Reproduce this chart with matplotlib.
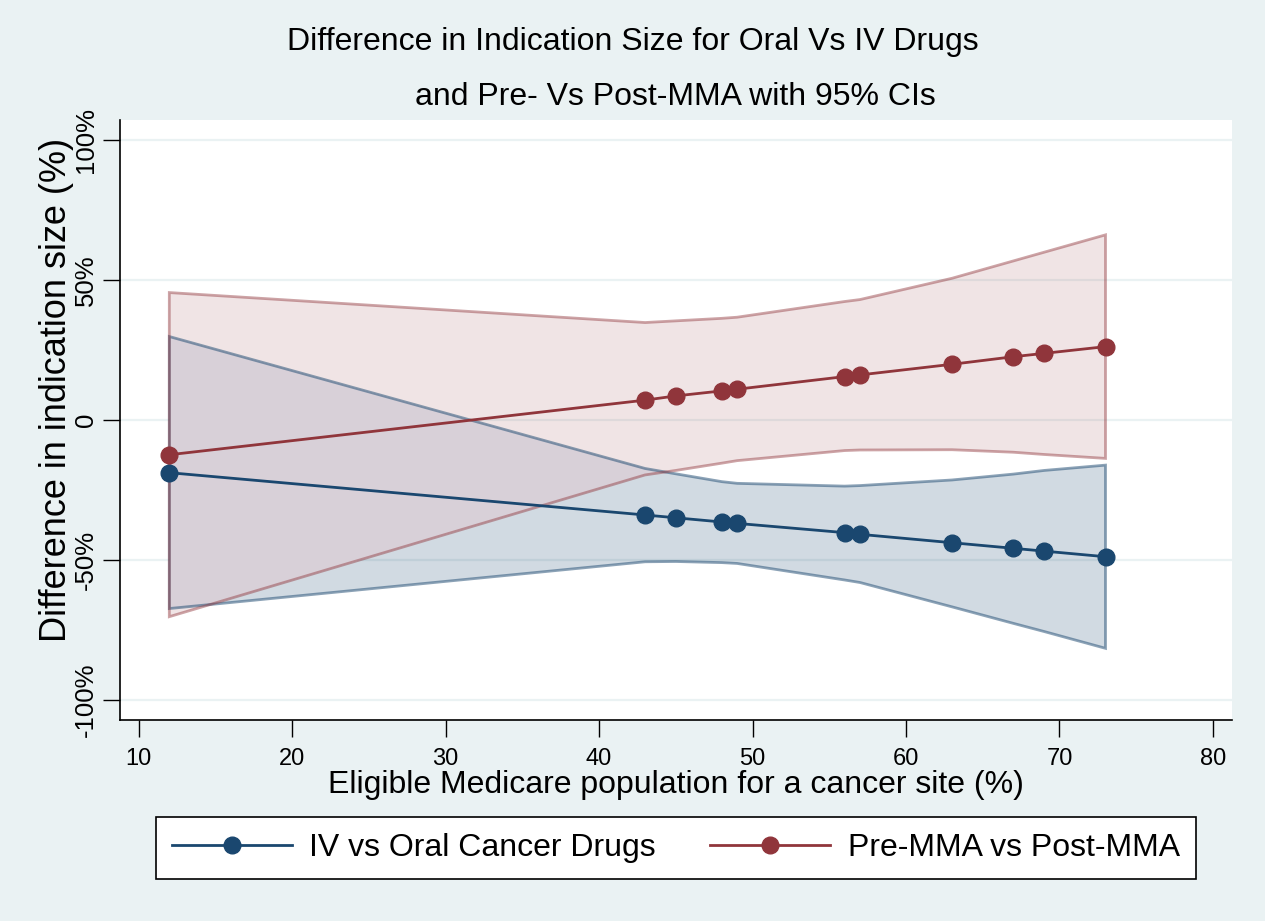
import matplotlib
matplotlib.use("Agg")
import matplotlib.pyplot as plt
from matplotlib.patches import Polygon
from matplotlib.colors import to_rgba

# eligible Medicare population (%) for each cancer site
x = [12, 43, 45, 48, 49, 56, 57, 63, 67, 69, 73]

# IV vs oral: point estimate and 95% CI
iv = [-18.8, -33.9, -34.9, -36.4, -36.9, -40.2, -40.8, -43.8, -45.8, -46.8, -48.8]
iv_hi = [29.8, -17.3, -19.2, -22.0, -22.6, -23.6, -23.4, -21.4, -19.3, -18.0, -16.1]
iv_lo = [-67.3, -50.6, -50.5, -50.9, -51.2, -57.1, -58.0, -66.7, -72.6, -75.5, -81.5]

# pre- vs post-MMA: point estimate and 95% CI
mma = [-12.4, 7.1, 8.6, 10.4, 11.0, 15.5, 16.1, 19.9, 22.6, 23.8, 26.2]
mma_hi = [45.5, 34.8, 35.4, 36.3, 36.7, 42.3, 43.0, 50.6, 56.8, 59.9, 66.1]
mma_lo = [-70.2, -19.6, -18.0, -15.4, -14.5, -10.9, -10.7, -10.6, -11.5, -12.3, -13.7]

xticks = [10, 20, 30, 40, 50, 60, 70, 80]
yticks = [-100, -50, 0, 50, 100]
ylabels = ["-100%", "-50%", "0", "50%", "100%"]

navy = "#1a476f"
maroon = "#90353b"
bg = "#eaf2f3"
overlap = "#d8d0d8"

plt.rcParams["font.family"] = ["Liberation Sans", "DejaVu Sans"]

fig = plt.figure(figsize=(12.65, 9.21), dpi=100, facecolor=bg)
ax = fig.add_axes([0.0949, 0.2182, 0.8790, 0.6515])
ax.set_facecolor("white")

# light horizontal grid
for yt in yticks:
    ax.axhline(yt, color=bg, lw=1.6, zorder=0)


def band_xy(lo, hi):
    return list(zip(list(x) + list(x[::-1]), list(hi) + list(lo[::-1])))


iv_xy = band_xy(iv_lo, iv_hi)
mma_xy = band_xy(mma_lo, mma_hi)

iv_patch = Polygon(iv_xy, closed=True, facecolor=to_rgba(navy, 0.2), edgecolor="none", zorder=1)
mma_patch = Polygon(mma_xy, closed=True, facecolor=to_rgba(maroon, 0.13), edgecolor="none", zorder=1)
ax.add_patch(iv_patch)
ax.add_patch(mma_patch)

# where the two CIs overlap
ov = Polygon(mma_xy, closed=True, facecolor=overlap, edgecolor="none", zorder=1.5)
ax.add_patch(ov)
ov.set_clip_path(iv_patch)

# CI outlines
ax.add_patch(Polygon(iv_xy, closed=True, fill=False, edgecolor=to_rgba(navy, 0.5), lw=2, zorder=2))
ax.add_patch(Polygon(mma_xy, closed=True, fill=False, edgecolor=to_rgba(maroon, 0.45), lw=2, zorder=2))

ax.plot(x, iv, color=navy, lw=2, marker="o", ms=12, zorder=3, label="IV vs Oral Cancer Drugs")
ax.plot(x, mma, color=maroon, lw=2, marker="o", ms=12, zorder=3, label="Pre-MMA vs Post-MMA")

ax.set_xlim(8.79, 81.24)
ax.set_ylim(-107.1, 107.1)
ax.set_xticks(xticks)
ax.set_xticklabels([str(t) for t in xticks], fontsize=17)
ax.set_yticks(yticks)
ax.set_yticklabels(ylabels, rotation=90, va="center", fontsize=18.5)
ax.tick_params(axis="both", length=12, width=1, direction="out", pad=4)
ax.tick_params(axis="x", pad=8)

for s in ["top", "right"]:
    ax.spines[s].set_visible(False)
for s in ["left", "bottom"]:
    ax.spines[s].set_linewidth(1.2)

ax.set_xlabel("Eligible Medicare population for a cancer site (%)", fontsize=23, labelpad=0)
ax.set_ylabel("Difference in indication size (%)", fontsize=26)
ax.yaxis.set_label_coords(-0.041, 0.55)

fig.text(0.5, 0.954, "Difference in Indication Size for Oral Vs IV Drugs", ha="center", va="center", fontsize=23)
fig.text(0.5336, 0.895, "and Pre- Vs Post-MMA with 95% CIs", ha="center", va="center", fontsize=23)

leg = fig.legend(loc="center", bbox_to_anchor=(0.5344, 0.0793), ncol=2,
                 prop={"size": 23}, handlelength=3.75, handletextpad=0.55, columnspacing=1.7,
                 borderpad=0.5, fancybox=False, edgecolor="black", framealpha=1)
leg.get_frame().set_linewidth(1.2)

fig.savefig("out.png", dpi=100, facecolor=bg)
